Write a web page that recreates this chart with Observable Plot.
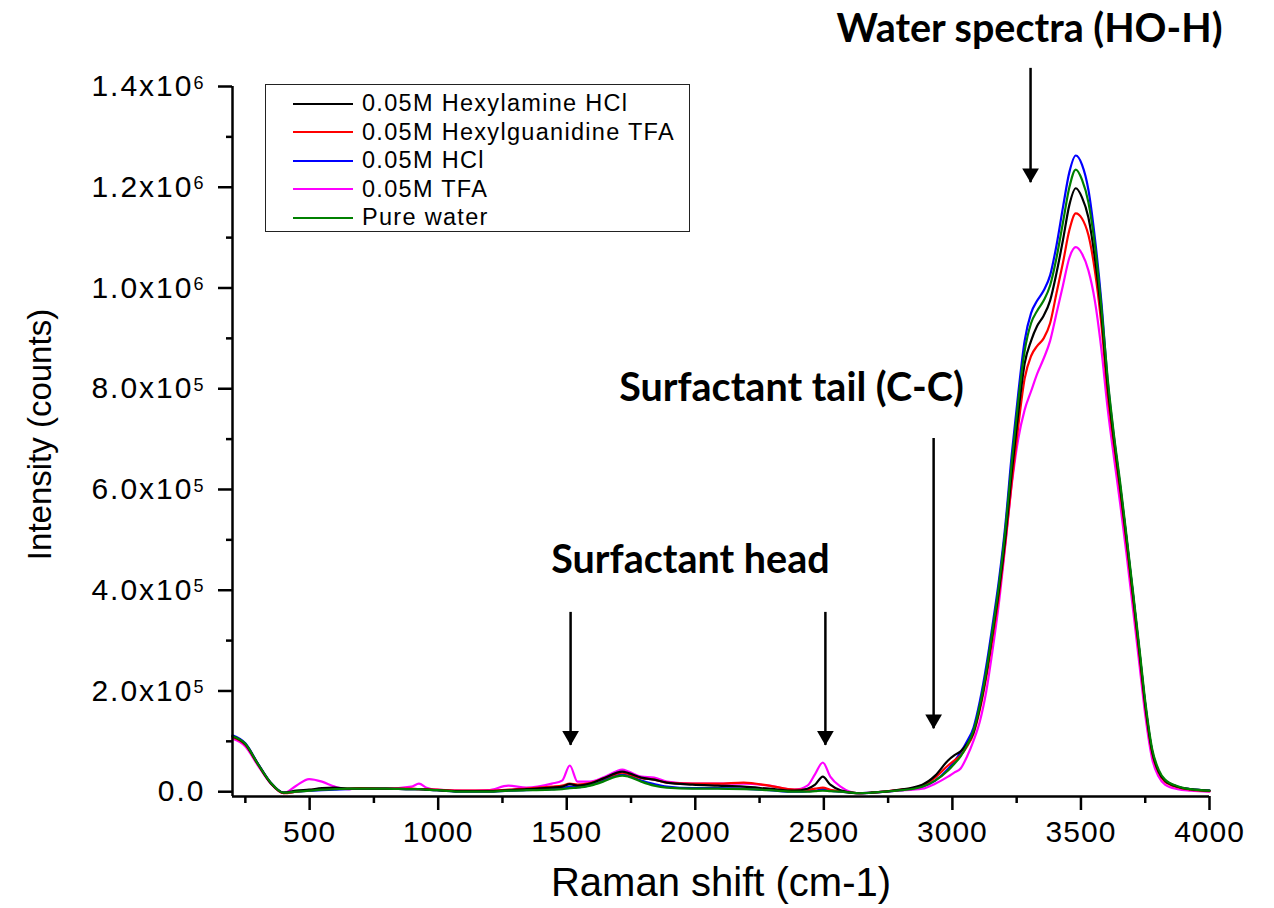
<!DOCTYPE html>
<html>
<head>
<meta charset="utf-8">
<script src="https://cdn.jsdelivr.net/npm/d3@7"></script>
<script src="https://cdn.jsdelivr.net/npm/@observablehq/plot@0.6"></script>
<style>
  html, body { margin: 0; padding: 0; background: #fff; }
  #wrap { position: relative; width: 1274px; height: 908px; overflow: hidden; }
  #legend { position: absolute; left: 265px; top: 84px; width: 425px; height: 148px;
            border: 1.5px solid #222; box-sizing: border-box; background: #fff;
            font-family: "Liberation Sans", Arial, sans-serif; font-size: 23.5px; letter-spacing: 1.3px; color: #000; }
  #legend .row { position: absolute; left: 0; height: 28px; display: flex; align-items: center; white-space: nowrap; }
  #legend .sw { width: 60px; height: 2px; margin-left: 27px; margin-right: 9px; }
</style>
</head>
<body>
<div id="wrap"><div id="legend"></div></div>
<script>
// ---------- data (intensity in units of 10^3 counts) ----------
const ramanShift = [200, 250, 299, 349, 399, 448, 498, 548, 598, 647, 697, 796, 896, 925, 955, 995, 1094, 1194, 1273, 1343, 1442, 1482, 1512, 1542, 1591, 1641, 1691, 1716, 1740, 1790, 1840, 1889, 1989, 2088, 2188, 2287, 2386, 2436, 2466, 2496, 2525, 2565, 2635, 2684, 2784, 2883, 2933, 2983, 3007, 3032, 3057, 3082, 3107, 3132, 3156, 3181, 3206, 3231, 3256, 3281, 3306, 3330, 3355, 3380, 3405, 3430, 3455, 3480, 3504, 3529, 3554, 3579, 3604, 3628, 3653, 3678, 3703, 3728, 3752, 3777, 3802, 3827, 3876, 3926, 4000];

const hexylamineHCl = [110, 94, 55, 17, -2, 2, 4, 7, 8, 6, 6, 6, 5, 5, 4, 3, 1, 1, 3, 5, 8, 10, 15, 12, 16, 26, 37, 40, 37, 28, 24, 18, 14, 12, 10, 6, 2, 6, 14, 30, 14, 3, -3, -2, 3, 14, 32, 62, 72, 80, 95, 118, 168, 235, 315, 400, 505, 635, 750, 850, 895, 925, 945, 975, 1030, 1095, 1165, 1198, 1180, 1140, 1060, 950, 805, 700, 603, 498, 388, 275, 165, 80, 40, 22, 10, 5, 2];

const hexylguanidineTFA = [108, 93, 54, 17, -3, 0, 3, 5, 6, 6, 7, 6, 6, 5, 5, 4, 2, 2, 4, 6, 10, 12, 16, 14, 17, 26, 35, 38, 35, 27, 24, 18, 16, 16, 18, 12, 4, 4, 6, 8, 4, 1, -3, -2, 3, 12, 28, 52, 62, 72, 90, 115, 163, 228, 305, 390, 495, 615, 725, 820, 865, 885, 900, 930, 990, 1050, 1115, 1148, 1138, 1105, 1035, 930, 790, 690, 595, 490, 380, 268, 160, 77, 38, 20, 9, 4, 1];

const hcl = [112, 96, 56, 18, -2, 0, 2, 3, 4, 5, 6, 6, 5, 5, 4, 3, 0, 0, 2, 3, 5, 7, 10, 9, 13, 22, 32, 34, 32, 22, 15, 10, 7, 7, 6, 3, 0, 1, 2, 5, 2, 0, -3, -2, 2, 10, 22, 45, 60, 78, 100, 127, 180, 250, 330, 420, 530, 670, 790, 895, 950, 975, 995, 1025, 1085, 1160, 1230, 1263, 1245, 1195, 1100, 975, 815, 705, 605, 500, 390, 275, 165, 80, 40, 22, 10, 5, 2];

const tfa = [105, 90, 52, 16, -3, 12, 25, 20, 10, 5, 7, 6, 10, 16, 8, 4, 2, 3, 12, 8, 16, 22, 52, 20, 20, 28, 40, 44, 40, 30, 28, 20, 16, 16, 16, 12, 4, 12, 35, 58, 30, 10, -3, -2, 2, 6, 16, 30, 38, 46, 70, 101, 140, 200, 280, 375, 490, 610, 700, 758, 795, 830, 860, 895, 950, 1005, 1060, 1081, 1068, 1035, 975, 880, 760, 665, 570, 468, 360, 250, 145, 65, 30, 14, 5, 2, 0];

const pureWater = [110, 95, 55, 18, -2, 0, 2, 4, 5, 6, 6, 6, 5, 5, 4, 3, 0, 0, 2, 3, 4, 5, 7, 8, 12, 20, 30, 32, 30, 20, 12, 8, 6, 6, 5, 3, 0, 0, 1, 2, 1, 0, -3, -2, 2, 10, 22, 42, 55, 70, 92, 121, 172, 240, 320, 410, 520, 655, 775, 875, 930, 955, 975, 1005, 1060, 1130, 1200, 1235, 1215, 1170, 1085, 965, 820, 710, 612, 505, 395, 282, 172, 85, 44, 24, 11, 5, 2];

const seriesNames = ["0.05M Hexylamine HCl", "0.05M Hexylguanidine TFA", "0.05M HCl", "0.05M TFA", "Pure water"];
const seriesValues = [hexylamineHCl, hexylguanidineTFA, hcl, tfa, pureWater];

// tick values (in 10^3 counts for y)
const xMajorTicks = [500, 1000, 1500, 2000, 2500, 3000, 3500, 4000];
const xMinorTicks = [250, 750, 1250, 1750, 2250, 2750, 3250, 3750];
const yMajorTicks = [0, 200, 400, 600, 800, 1000, 1200, 1400];
const yMinorTicks = [100, 300, 500, 700, 900, 1100, 1300];

// annotations (data coordinates)
const arrowX   = [1515, 2506, 2927, 3304];
const arrowTop = [356, 356, 701, 1436];
const arrowTip = [92, 92, 125, 1209];
const noteText = ["Surfactant head", "Surfactant tail (C-C)", "Water spectra (HO-H)"];
const noteX    = [1981, 2374, 3300];
const noteY    = [460, 801, 1514];

// ---------- styling ----------
const colorOf = {
  "0.05M Hexylamine HCl": "#000000",
  "0.05M Hexylguanidine TFA": "#ff0000",
  "0.05M HCl": "#0000ff",
  "0.05M TFA": "#ff00ff",
  "Pure water": "#008000"
};
const drawOrder = ["0.05M HCl", "0.05M TFA", "0.05M Hexylguanidine TFA", "0.05M Hexylamine HCl", "Pure water"];

const rows = [];
seriesNames.forEach((name, s) => {
  seriesValues[s].forEach((v, i) => rows.push({series: name, shift: ramanShift[i], value: v}));
});

function yLabel(v) {
  if (v === 0) return "0.0";
  const c = v * 1000;
  const e = Math.floor(Math.log10(c));
  return (c / Math.pow(10, e)).toFixed(1) + "x10^" + e;
}

const sans = "'Liberation Sans', Arial, sans-serif";
const idxA = d3.range(arrowX.length);
const idxN = d3.range(noteText.length);

const lineMarks = drawOrder.map(name => Plot.line(rows.filter(r => r.series === name), {
  x: "shift", y: "value", stroke: colorOf[name], strokeWidth: 2.2, curve: "monotone-x"
}));

const chart = Plot.plot({
  width: 1274,
  height: 908,
  marginLeft: 232,
  marginRight: 65,
  marginTop: 86,
  marginBottom: 112,
  style: {fontFamily: sans, background: "#fff", color: "#000", overflow: "visible"},
  x: {domain: [200, 4000]},
  y: {domain: [-9.5, 1400]},
  marks: [
    ...lineMarks,
    Plot.ruleX([200], {strokeWidth: 2.5, stroke: "#000"}),
    Plot.ruleY([-9.5], {strokeWidth: 2.5, stroke: "#000"}),
    Plot.axisX(xMajorTicks, {tickSize: 14, tickPadding: 10, strokeWidth: 2.5, fontSize: 30, label: null, tickFormat: d => String(d)}),
    Plot.axisX(xMinorTicks, {tickSize: 7, strokeWidth: 2.5, label: null, tickFormat: () => ""}),
    Plot.axisY(yMajorTicks, {tickSize: 14, tickPadding: 13, strokeWidth: 2.5, fontSize: 30, label: null, tickFormat: yLabel}),
    Plot.axisY(yMinorTicks, {tickSize: 6, strokeWidth: 2.5, label: null, tickFormat: () => ""}),
    Plot.text(["Raman shift (cm-1)"], {frameAnchor: "bottom", textAnchor: "middle", lineAnchor: "middle", dy: 87, fontSize: 40, ariaLabel: "xtitle", fill: "#000"}),
    Plot.text(["Intensity (counts)"], {frameAnchor: "left", textAnchor: "middle", lineAnchor: "middle", rotate: -90, dx: -192, dy: -7, fontSize: 33, ariaLabel: "ytitle", fill: "#000"}),
    Plot.ruleX(idxA, {x: i => arrowX[i], y1: i => arrowTop[i], y2: i => arrowTip[i], strokeWidth: 2.5, stroke: "#000"}),
    Plot.dot(idxA, {x: i => arrowX[i], y: i => arrowTip[i], symbol: "triangle", rotate: 180, r: 6.2, fill: "#000", stroke: "none", dy: -9.5}),
    Plot.text(idxN, {x: i => noteX[i], y: i => noteY[i], text: i => noteText[i], fontSize: 39.5, fontWeight: "bold", fontFamily: "Lato, 'Open Sans', sans-serif", fill: "#000", textAnchor: "middle", lineAnchor: "middle", ariaLabel: "notes"})
  ]
});

document.getElementById("wrap").prepend(chart);

// superscript exponents on y tick labels
const NS = "http://www.w3.org/2000/svg";
chart.querySelectorAll('g[aria-label="y-axis tick label"] text').forEach(t => {
  const parts = t.textContent.split("^");
  if (parts.length === 2) {
    t.textContent = parts[0];
    const sup = document.createElementNS(NS, "tspan");
    sup.setAttribute("dy", "-0.42em");
    sup.setAttribute("font-size", "18");
    sup.textContent = parts[1];
    t.appendChild(sup);
  }
});
chart.querySelectorAll('g[aria-label="y-axis tick label"]').forEach(g => g.setAttribute("letter-spacing", "2"));
chart.querySelectorAll('g[aria-label="x-axis tick label"]').forEach(g => g.setAttribute("letter-spacing", "1"));
const xt = chart.querySelector('g[aria-label="xtitle"]'); if (xt) xt.setAttribute("letter-spacing", "5.3");
const yt = chart.querySelector('g[aria-label="ytitle"]'); if (yt) yt.setAttribute("letter-spacing", "1.3");

// legend
const legend = document.getElementById("legend");
seriesNames.forEach((name, i) => {
  const row = document.createElement("div");
  row.className = "row";
  row.style.top = (4.5 + 28.5 * i) + "px";
  const sw = document.createElement("div");
  sw.className = "sw";
  sw.style.background = colorOf[name];
  const lab = document.createElement("span");
  lab.textContent = name;
  row.appendChild(sw);
  row.appendChild(lab);
  legend.appendChild(row);
});
</script>
</body>
</html>
